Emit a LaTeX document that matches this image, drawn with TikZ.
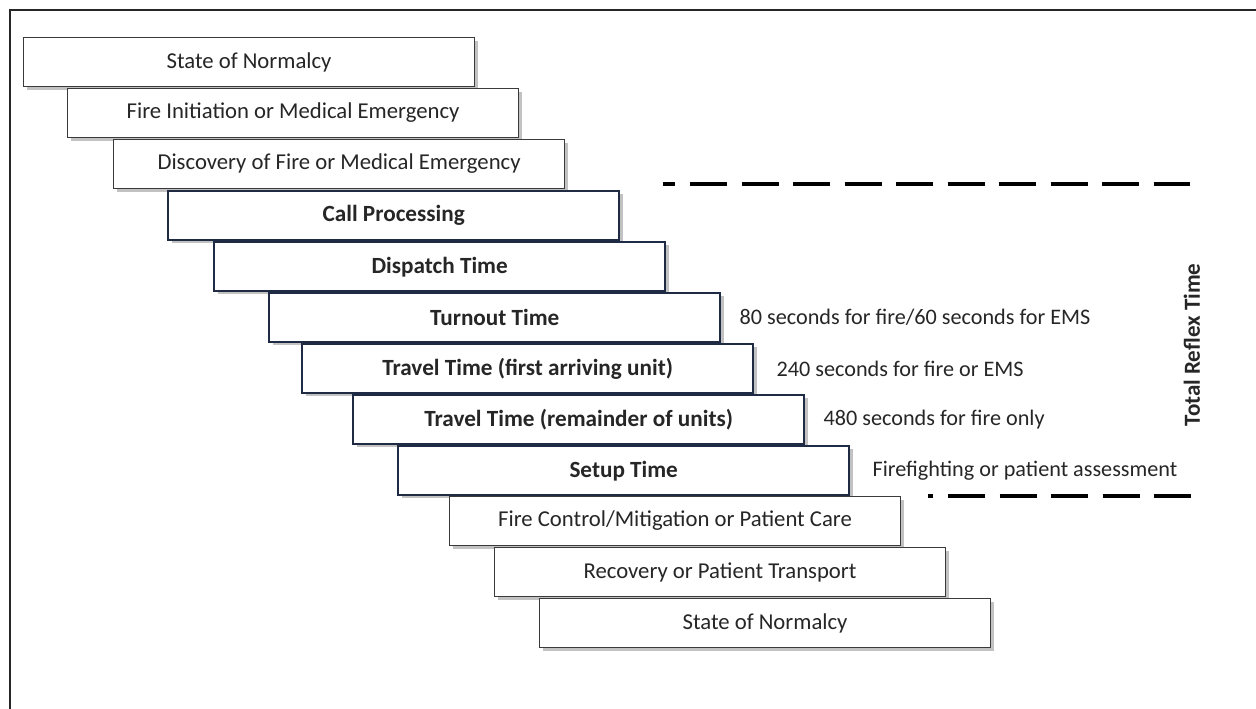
\documentclass[tikz,border=0pt]{standalone}
\usepackage{fontspec}
\setmainfont{Carlito}
\usetikzlibrary{positioning,shadows}

\definecolor{navy}{HTML}{1F2B45}
\definecolor{edgegray}{HTML}{3A3A3A}
\definecolor{ink}{HTML}{262626}

\tikzset{
  stage/.style={draw=edgegray, line width=1.1pt, fill=white, anchor=north west,
    minimum width=451pt, minimum height=49pt, inner sep=0pt, text=ink,
    font=\fontsize{22.7}{24}\selectfont,
    drop shadow={shadow xshift=3.5pt, shadow yshift=-3pt, fill=black!40, opacity=.6}},
  keystage/.style={stage, draw=navy, line width=2.4pt,
    font=\fontsize{23.2}{25}\selectfont\bfseries},
  note/.style={inner sep=0pt, text=ink, font=\fontsize{22.2}{24}\selectfont},
  reflexline/.style={line width=4pt, black}
}

\begin{document}
\begin{tikzpicture}[x=1pt, y=-1pt]
\useasboundingbox (0,0) rectangle (1256,709);
\draw[line width=2.4pt, black!85] (10,709) -- (10,10) -- (1260,10);

\node[stage] at (23,37) (normalcyA) {State of Normalcy};
\node[stage] at (67,88) (ignition) {Fire Initiation or Medical Emergency};
\node[stage] at (113,139) (discovery) {Discovery of Fire or Medical Emergency};
\node[keystage] at (167,190) (callproc) {Call Processing};
\node[keystage] at (213,241) (dispatch) {Dispatch Time};
\node[keystage] at (268,292) (turnout) {Turnout Time};
\node[keystage] at (301,343) (travelfirst) {Travel Time (first arriving unit)};
\node[keystage] at (352,394) (travelrest) {Travel Time (remainder of units)};
\node[keystage] at (397,445) (setup) {Setup Time};
\node[stage] at (449,496) (control) {Fire Control/Mitigation or Patient Care};
\node[stage] at (494,547) (recovery) {Recovery or Patient Transport};
\node[stage] at (539,598) (normalcyB) {State of Normalcy};

\node[note, right=18pt of turnout] (turnoutnote) {80 seconds for fire/60 seconds for EMS};
\node[note, right=22pt of travelfirst] (firstnote) {240 seconds for fire or EMS};
\node[note, right=18pt of travelrest] (restnote) {480 seconds for fire only};
\node[note, right=22pt of setup] (setupnote) {Firefighting or patient assessment};

% reflex time bracket
\coordinate (topdash) at (663,184);
\coordinate (botdash) at (928,496);
\draw[reflexline] (topdash) -- ++(12,0);
\draw[reflexline, dash pattern=on 37pt off 14.5pt] ([xshift=27pt]topdash) -- (1190,184);
\draw[reflexline] (botdash) -- ++(5,0);
\draw[reflexline, dash pattern=on 37pt off 14.5pt] ([xshift=20pt]botdash) -- (1191,496);

\node[rotate=90, text=ink, font=\fontsize{23}{25}\selectfont\bfseries] at (1192,345) (reflex) {Total Reflex Time};
\end{tikzpicture}
\end{document}
